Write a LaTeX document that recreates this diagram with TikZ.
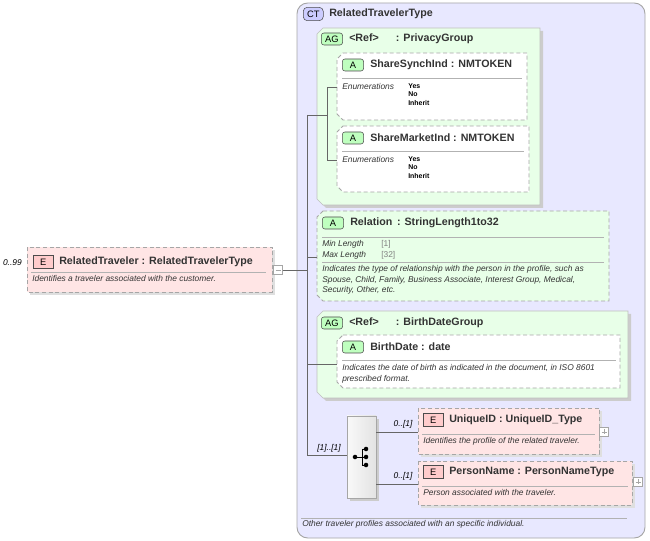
\documentclass[tikz,border=0pt]{standalone}
\usepackage{fontspec}
\setmainfont{Liberation Sans}
\begin{document}
\begin{tikzpicture}[x=0.75pt,y=-0.75pt,
 dbord/.style={draw=gray!70,densely dashed,line width=0.7pt},
 conn/.style={draw=gray!80!black,line width=0.5pt},
 ttl/.style={anchor=west,font=\fontsize{8}{9}\selectfont\bfseries,text=black!80,inner sep=0},
 dsc/.style={anchor=north west,font=\fontsize{6.3}{8}\selectfont\itshape,text=black!80,inner sep=0,align=left},
 sml/.style={anchor=north west,font=\fontsize{5.2}{6.5}\selectfont\bfseries,inner sep=0,align=left},
 mult/.style={font=\fontsize{6.3}{8}\selectfont\itshape,inner sep=0}]
\useasboundingbox (0,0) rectangle (650,541);
\newcommand\chb[5]{% x1 y1 x2 y2 style
 \path[#5] (#1+6,#2) -- (#3,#2) -- (#3,#4) -- (#1+6,#4) -- (#1,#4-6) -- (#1,#2+6) -- cycle;}
\newcommand\badge[4]{% x y width text
 \node[draw=gray!60!black,fill=green!25,rounded corners=2pt,minimum width=#3,minimum height=9pt,inner sep=0,font=\fontsize{7}{8}\selectfont,anchor=west] at (#1,#2) {#4};}
% CT box
\path[draw=gray!70,fill=blue!9,rounded corners=8pt,line width=0.7pt] (297,3) rectangle (645,538);
\node[draw=gray!60!black,fill=blue!20,rounded corners=3pt,minimum width=15pt,minimum height=10pt,inner sep=0,font=\fontsize{7}{8}\selectfont,anchor=west] (ct) at (303,14) {CT};
\node[ttl] at (329,14) {RelatedTravelerType};
\draw[gray!60] (301,518) -- (627,518);
\node[dsc] at (302,520) {Other traveler profiles associated with an specific individual.};
% Left element
\path[fill=gray!25] (30,250) rectangle (275,295);
\path[fill=red!10,dbord] (27,247) rectangle (272,292);
\node[draw=gray!60!black,fill=red!20,minimum width=15pt,minimum height=10pt,inner sep=0,font=\fontsize{7}{8}\selectfont,anchor=west] at (33,262) {E};
\node[ttl] at (59,262) {RelatedTraveler : RelatedTravelerType};
\draw[gray!60] (31,272) -- (266,272);
\node[dsc] at (32,275) {Identifies a traveler associated with the customer.};
\node[mult,anchor=east] at (22,263) {0..99};
\node[draw=gray!70,fill=white,minimum size=7pt,inner sep=0] (minus) at (278,270) {};
\draw[gray!70] (275.5,270) -- (280.5,270);
% PrivacyGroup
\chb{320}{31}{543}{208}{fill=gray!40}
\chb{317}{28}{540}{205}{fill=green!9,draw=gray!50}
\badge{321}{39}{16pt}{AG}
\node[ttl] at (349,39) {<Ref>\hspace{1.6em}: PrivacyGroup};
\chb{337}{53}{527}{120}{fill=white,dbord}
\badge{342}{65}{16pt}{A}
\node[ttl] at (370,65) {ShareSynchInd : NMTOKEN};
\draw[gray!60] (342,78) -- (522,78);
\node[dsc] at (342,83) {Enumerations};
\node[sml] at (408,83) {Yes\\No\\Inherit};
\chb{337}{126}{529}{192}{fill=white,dbord}
\badge{342}{138}{16pt}{A}
\node[ttl] at (370,138) {ShareMarketInd : NMTOKEN};
\draw[gray!60] (342,151) -- (524,151);
\node[dsc] at (342,156) {Enumerations};
\node[sml] at (408,156) {Yes\\No\\Inherit};
% Relation
\chb{317}{211}{609}{301}{fill=green!9,dbord}
\badge{322}{223}{16pt}{A}
\node[ttl] at (350,223) {Relation\, : StringLength1to32};
\draw[gray!60] (322,237) -- (604,237);
\node[dsc] at (322,240) {Min Length\\Max Length};
\node[anchor=north west,font=\fontsize{6.3}{8}\selectfont,text=gray,inner sep=0,align=left] at (381,240) {[1]\\{}[32]};
\draw[gray!60] (322,262) -- (604,262);
\node[dsc] at (322,265) {Indicates the type of relationship with the person in the profile, such as\\Spouse, Child, Family, Business Associate, Interest Group, Medical,\\Security, Other, etc.};
% BirthDateGroup
\chb{320}{314}{631}{401}{fill=gray!40}
\chb{317}{311}{628}{398}{fill=green!9,draw=gray!50}
\badge{321}{323}{16pt}{AG}
\node[ttl] at (349,323) {<Ref>\hspace{1.6em}: BirthDateGroup};
\chb{337}{335}{620}{388}{fill=white,dbord}
\badge{342}{347}{16pt}{A}
\node[ttl] at (370,347) {BirthDate : date};
\draw[gray!60] (342,360) -- (616,360);
\node[dsc] at (342,364) {Indicates the date of birth as indicated in the document, in ISO 8601\\prescribed format.};
% Sequence
\path[fill=gray!40] (350,419) rectangle (379,501);
\path[draw=gray!70,left color=gray!5,right color=gray!22] (347,416) rectangle (376,498);
\foreach \yy in {449,457,465} \fill (366,\yy) circle (1.7pt);
\fill (355,457) circle (1.7pt);
\draw (355,457) -- (362,457) (362,449) -- (362,465) (362,449) -- (366,449) (362,465) -- (366,465) (362,457) -- (366,457);
% UniqueID
\path[fill=gray!25] (421,411) rectangle (602,457);
\path[fill=red!10,dbord] (418,408) rectangle (599,454);
\node[draw=gray!60!black,fill=red!20,minimum width=15pt,minimum height=10pt,inner sep=0,font=\fontsize{7}{8}\selectfont,anchor=west] at (423,420) {E};
\node[ttl] at (449,420) {UniqueID : UniqueID\_Type};
\draw[gray!60] (422,434) -- (595,434);
\node[dsc] at (423,437) {Identifies the profile of the related traveler.};
\node[draw=gray!70,fill=white,minimum size=7pt,inner sep=0] at (604,432) {};
\draw[gray!70] (601.5,432) -- (606.5,432) (604,429.5) -- (604,434.5);
% PersonName
\path[fill=gray!25] (421,464) rectangle (635,508);
\path[fill=red!10,dbord] (418,461) rectangle (632,505);
\node[draw=gray!60!black,fill=red!20,minimum width=15pt,minimum height=10pt,inner sep=0,font=\fontsize{7}{8}\selectfont,anchor=west] at (423,472) {E};
\node[ttl] at (449,472) {PersonName : PersonNameType};
\draw[gray!60] (422,486) -- (628,486);
\node[dsc] at (423,489) {Person associated with the traveler.};
\node[draw=gray!70,fill=white,minimum size=7pt,inner sep=0] at (638,482) {};
\draw[gray!70] (635.5,482) -- (640.5,482) (638,479.5) -- (638,484.5);
% connectors
\draw[conn] (minus.east) -- (307,270);
\draw[conn] (307,115) -- (307,455) -- (347,455);
\draw[conn] (307,115) -- (327,115);
\draw[conn] (337,87) -- (327,87) -- (327,160) -- (337,160);
\draw[conn] (307,257) -- (317,257);
\draw[conn] (307,364) -- (337,364);
\draw[conn] (376,432) -- (418,432);
\draw[conn] (376,484) -- (418,484);
\node[mult,anchor=south] at (329,453) {[1]..[1]};
\node[mult,anchor=south] at (403,429) {0..[1]};
\node[mult,anchor=south] at (403,481) {0..[1]};
\end{tikzpicture}
\end{document}
